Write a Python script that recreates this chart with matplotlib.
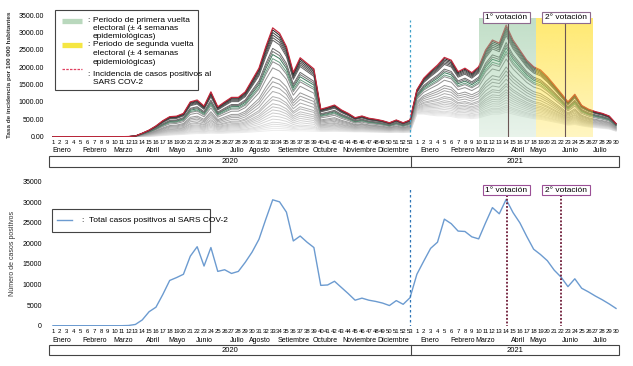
import numpy as np
import matplotlib
matplotlib.use('Agg')
import matplotlib.pyplot as plt
from matplotlib.patches import Rectangle
from matplotlib.lines import Line2D
from matplotlib.transforms import blended_transform_factory
from matplotlib.colors import to_rgb

plt.rcParams['font.family'] = ['Liberation Sans Narrow', 'Liberation Sans', 'DejaVu Sans']

# semanas epidemiologicas
semanas_2020 = list(range(1, 54))
semanas_2021 = list(range(1, 31))

# incidencia por 100 000 hab (linea roja superior)
incidencia_2020 = [0, 0, 0, 0, 0, 0, 0, 0, 0, 0, 0, 5,
                   20, 100, 190, 310, 460, 575, 590, 670, 1000, 1055,
                   880, 1290, 860, 1000, 1130, 1130, 1290, 1630, 1970, 2590,
                   3130, 2975, 2590, 1850, 2270, 2110, 1950, 790, 845, 910,
                   770, 670, 545, 595, 530, 500, 460, 400, 480, 400, 480]
incidencia_2021 = [1350, 1680, 1880, 2060, 2280, 2200, 1870, 1970, 1840, 2010,
                   2490, 2780, 2690, 3210, 2780, 2490, 2200, 2010, 1920, 1725,
                   1490, 1250, 1000, 1220, 900, 790, 720, 670, 595, 380]

# linea gris mas baja
minimo_2020 = [0, 0, 0, 0, 0, 0, 0, 0, 0, 0, 0, 0,
               0, 5, 10, 20, 30, 45, 55, 65, 80, 90,
               90, 100, 95, 100, 110, 115, 125, 135, 150, 165,
               180, 180, 175, 165, 170, 165, 160, 150, 150, 155,
               150, 145, 140, 140, 135, 130, 125, 120, 125, 120, 125]
minimo_2021 = [650, 650, 620, 600, 600, 580, 540, 540, 520, 540,
               600, 650, 650, 700, 650, 600, 560, 520, 500, 460,
               420, 380, 330, 350, 310, 280, 260, 240, 220, 160]

# posicion relativa de cada linea gris entre minimo e incidencia
fracciones = [0.98, 0.955, 0.93, 0.905, 0.88, 0.80, 0.77, 0.74, 0.70, 0.67,
              0.61, 0.52, 0.475, 0.43, 0.38, 0.33, 0.30, 0.26, 0.23, 0.20,
              0.17, 0.14, 0.11, 0.08, 0.06, 0.04, 0.02, 0.0]

# total casos positivos
casos_2020 = [0, 0, 0, 0, 0, 0, 0, 0, 0, 0, 0, 50,
              300, 1400, 3400, 4500, 7600, 11000, 11700, 12500, 16900, 19200,
              14500, 19000, 13200, 13600, 12700, 13200, 15400, 17900, 21000, 25900,
              30600, 30100, 27600, 20600, 21800, 20300, 19000, 9800, 9900, 10800,
              9300, 7800, 6200, 6700, 6200, 5900, 5500, 4900, 6100, 5200, 6800]
casos_2021 = [12500, 15700, 18800, 20300, 25900, 24800, 23000, 22900, 21600, 21100,
              25000, 28700, 27200, 30700, 27500, 25000, 21700, 18600, 17300, 15800,
              13500, 11800, 9500, 11400, 9100, 8200, 7200, 6300, 5300, 4200]

meses = ['Enero', 'Febrero', 'Marzo', 'Abril', 'Mayo', 'Junio', 'Julio', 'Agosto',
         'Setiembre', 'Octubre', 'Noviembre', 'Diciembre',
         'Enero', 'Febrero', 'Marzo', 'Abril', 'Mayo', 'Junio', 'Julio']
pos_meses = [1.3, 6.1, 10.2, 14.6, 18.0, 22.1, 26.8, 30.1, 35.0, 39.6, 44.7, 49.5,
             54.9, 59.6, 62.9, 67.7, 70.6, 75.3, 79.7]

semanas = [str(s) for s in semanas_2020 + semanas_2021]
x = np.arange(len(semanas))
incidencia = np.array(incidencia_2020 + incidencia_2021, dtype=float)
minimo = np.array(minimo_2020 + minimo_2021, dtype=float)
casos = np.array(casos_2020 + casos_2021, dtype=float)

W, H = 633, 366
def fx(px):
    return px / W
def fy(py):
    return 1 - py / H

fig = plt.figure(figsize=(W / 100, H / 100), dpi=100)
ax1 = fig.add_axes([fx(49.2), fy(136.7), fx(619.1) - fx(49.2), fy(15) - fy(136.7)])
ax2 = fig.add_axes([fx(49.2), fy(325.7), fx(619.1) - fx(49.2), fy(181.7) - fy(325.7)])
XL = (-0.55, 82.45)
corte = 52.1

# ---------- panel superior ----------
n = len(fracciones)
for i in reversed(range(n)):
    g = 0.13 + 0.8 * (i / (n - 1)) ** 0.6
    col = (g, g, g)
    if i in (7, 8):
        col = '#3d7a5c' if i == 7 else '#6a9c82'
    ax1.plot(x, minimo + fracciones[i] * (incidencia - minimo), color=col, lw=0.7, zorder=2)
ax1.plot(x, incidencia, color='#c4283c', lw=0.9, zorder=3)

def sombra(ax, x0, x1, color, a_top, a_bot, ymax):
    img = np.zeros((200, 1, 4))
    img[..., :3] = to_rgb(color)
    img[:, 0, 3] = np.linspace(a_top, a_bot, 200)
    ax.imshow(img, extent=(x0, x1, 0, ymax), aspect='auto', origin='upper',
              zorder=4, interpolation='bilinear')

sombra(ax1, 62.0, 70.3, '#8fc49a', 0.55, 0.2, 3420)
sombra(ax1, 70.3, 78.5, '#ffe033', 0.7, 0.3, 3420)

ax1.vlines([66.2, 74.5], 0, 3270, color='#6b5555', lw=0.8, zorder=5)
ax1.vlines([corte - 0.1], 0, 3360, color='#3fa0c8', lw=0.9, linestyles=(0, (2, 2)), zorder=5)

for (a, b, t) in [(62.6, 69.5, '1° votación'), (71.2, 78.2, '2° votación')]:
    ax1.add_patch(Rectangle((a, 3270), b - a, 316, fc='white', ec='#8e6a8e', lw=0.8,
                            zorder=6, clip_on=False))
    ax1.text((a + b) / 2, 3428, t, ha='center', va='center', fontsize=6, zorder=7, clip_on=False)

ax1.set_xlim(*XL)
ax1.set_ylim(0, 3500)
ax1.set_yticks(np.arange(0, 3501, 500))
ax1.set_yticklabels([f'{v:.2f}' for v in np.arange(0, 3501, 500)], fontsize=5)

# ---------- panel inferior ----------
ax2.plot(x, casos, color='#6c9bd0', lw=1.0, zorder=3)
ax2.vlines([66.1, 74.0], -300, 31760, color='#6d1a36', lw=1.3, linestyles=(0, (1, 1)), zorder=4)
ax2.vlines([corte - 0.1], -300, 33600, color='#2e75b6', lw=0.9, linestyles=(0, (2, 2)), zorder=4)
for (a, b, t) in [(62.6, 69.5, '1° votación'), (71.2, 78.2, '2° votación')]:
    ax2.add_patch(Rectangle((a, 31760), b - a, 2430, fc='white', ec='#9b4f96', lw=0.8,
                            zorder=6, clip_on=False))
    ax2.text((a + b) / 2, 32975, t, ha='center', va='center', fontsize=6, zorder=7, clip_on=False)
ax2.set_xlim(*XL)
ax2.set_ylim(0, 35000)
ax2.set_yticks(np.arange(0, 35001, 5000))
ax2.set_yticklabels([str(v) for v in range(0, 35001, 5000)], fontsize=5)

# ejes comunes: semanas, meses, anios
for ax, pad, ym, yb0, yb1 in [(ax1, 2.6, 150.7, 156, 167), (ax2, 2.3, 341, 345, 355)]:
    for s in ax.spines.values():
        s.set_visible(False)
    ax.set_xticks(x)
    ax.set_xticklabels(semanas, fontsize=4.3)
    ax.tick_params(axis='x', length=0, pad=pad)
    ax.tick_params(axis='y', length=0, pad=3.6 if ax is ax1 else 5.2)
    tr = blended_transform_factory(ax.transData, fig.transFigure)
    for m, p in zip(meses, pos_meses):
        ax.text(p, fy(ym), m, transform=tr, fontsize=5, ha='center', va='center', clip_on=False)
    ax.add_patch(Rectangle((XL[0], fy(yb1)), XL[1] - XL[0], fy(yb0) - fy(yb1), transform=tr,
                           fc='none', ec='#444444', lw=0.8, clip_on=False))
    ax.add_line(Line2D([corte, corte], [fy(yb1), fy(yb0)], transform=tr, color='#444444',
                       lw=0.8, clip_on=False))
    ym2 = (fy(yb0) + fy(yb1)) / 2
    ax.text((XL[0] + corte) / 2, ym2, '2020', transform=tr, fontsize=5.5, ha='center', va='center')
    ax.text((corte + XL[1]) / 2, ym2, '2021', transform=tr, fontsize=5.5, ha='center', va='center')

fig.text(fx(10), fy(75), 'Tasa de incidencia por 100 000 habitantes', rotation=90,
         fontsize=4.6, fontweight='bold', ha='center', va='center', color='#333333')
fig.text(fx(12), fy(253), 'Número de casos positivos', rotation=90,
         fontsize=5, ha='center', va='center', color='#333333')

# ---------- leyendas ----------
fig.add_artist(Rectangle((fx(55), fy(90)), fx(198) - fx(55), fy(10) - fy(90),
                         transform=fig.transFigure, fc='white', ec='#444444', lw=0.8, zorder=3))
fig.add_artist(Line2D([fx(62), fx(82)], [fy(20.5)] * 2, transform=fig.transFigure,
                      color='#b9d8bd', lw=3.8, solid_capstyle='butt', zorder=4))
fig.add_artist(Line2D([fx(62), fx(82)], [fy(45)] * 2, transform=fig.transFigure,
                      color='#f5e642', lw=3.8, solid_capstyle='butt', zorder=4))
fig.add_artist(Line2D([fx(62), fx(82)], [fy(69)] * 2, transform=fig.transFigure,
                      color='#e04060', lw=0.9, linestyle=(0, (2, 1)), zorder=4))
ley_sup = [(20, ['Periodo de primera vuelta', 'electoral (± 4 semanas', 'epidemiológicas)']),
           (45, ['Periodo de segunda vuelta', 'electoral (± 4 semanas', 'epidemiológicas)']),
           (74, ['Incidencia de casos positivos al', 'SARS COV-2'])]
for yy, lineas in ley_sup:
    fig.text(fx(88), fy(yy), ':', fontsize=6, ha='center', va='center', zorder=5)
    for k, t in enumerate(lineas):
        fig.text(fx(93), fy(yy + 8.5 * k), t, fontsize=6, ha='left', va='center', zorder=5)

fig.add_artist(Rectangle((fx(52), fy(232)), fx(210) - fx(52), fy(209) - fy(232),
                         transform=fig.transFigure, fc='white', ec='#444444', lw=0.8, zorder=3))
fig.add_artist(Line2D([fx(57), fx(72)], [fy(220.5)] * 2, transform=fig.transFigure,
                      color='#6c9bd0', lw=1.0, zorder=4))
fig.text(fx(82), fy(220.5), ':', fontsize=6, ha='center', va='center', zorder=5)
fig.text(fx(89), fy(220.5), 'Total casos positivos al SARS COV-2', fontsize=6,
         ha='left', va='center', zorder=5)

fig.savefig('out.png', dpi=100)
